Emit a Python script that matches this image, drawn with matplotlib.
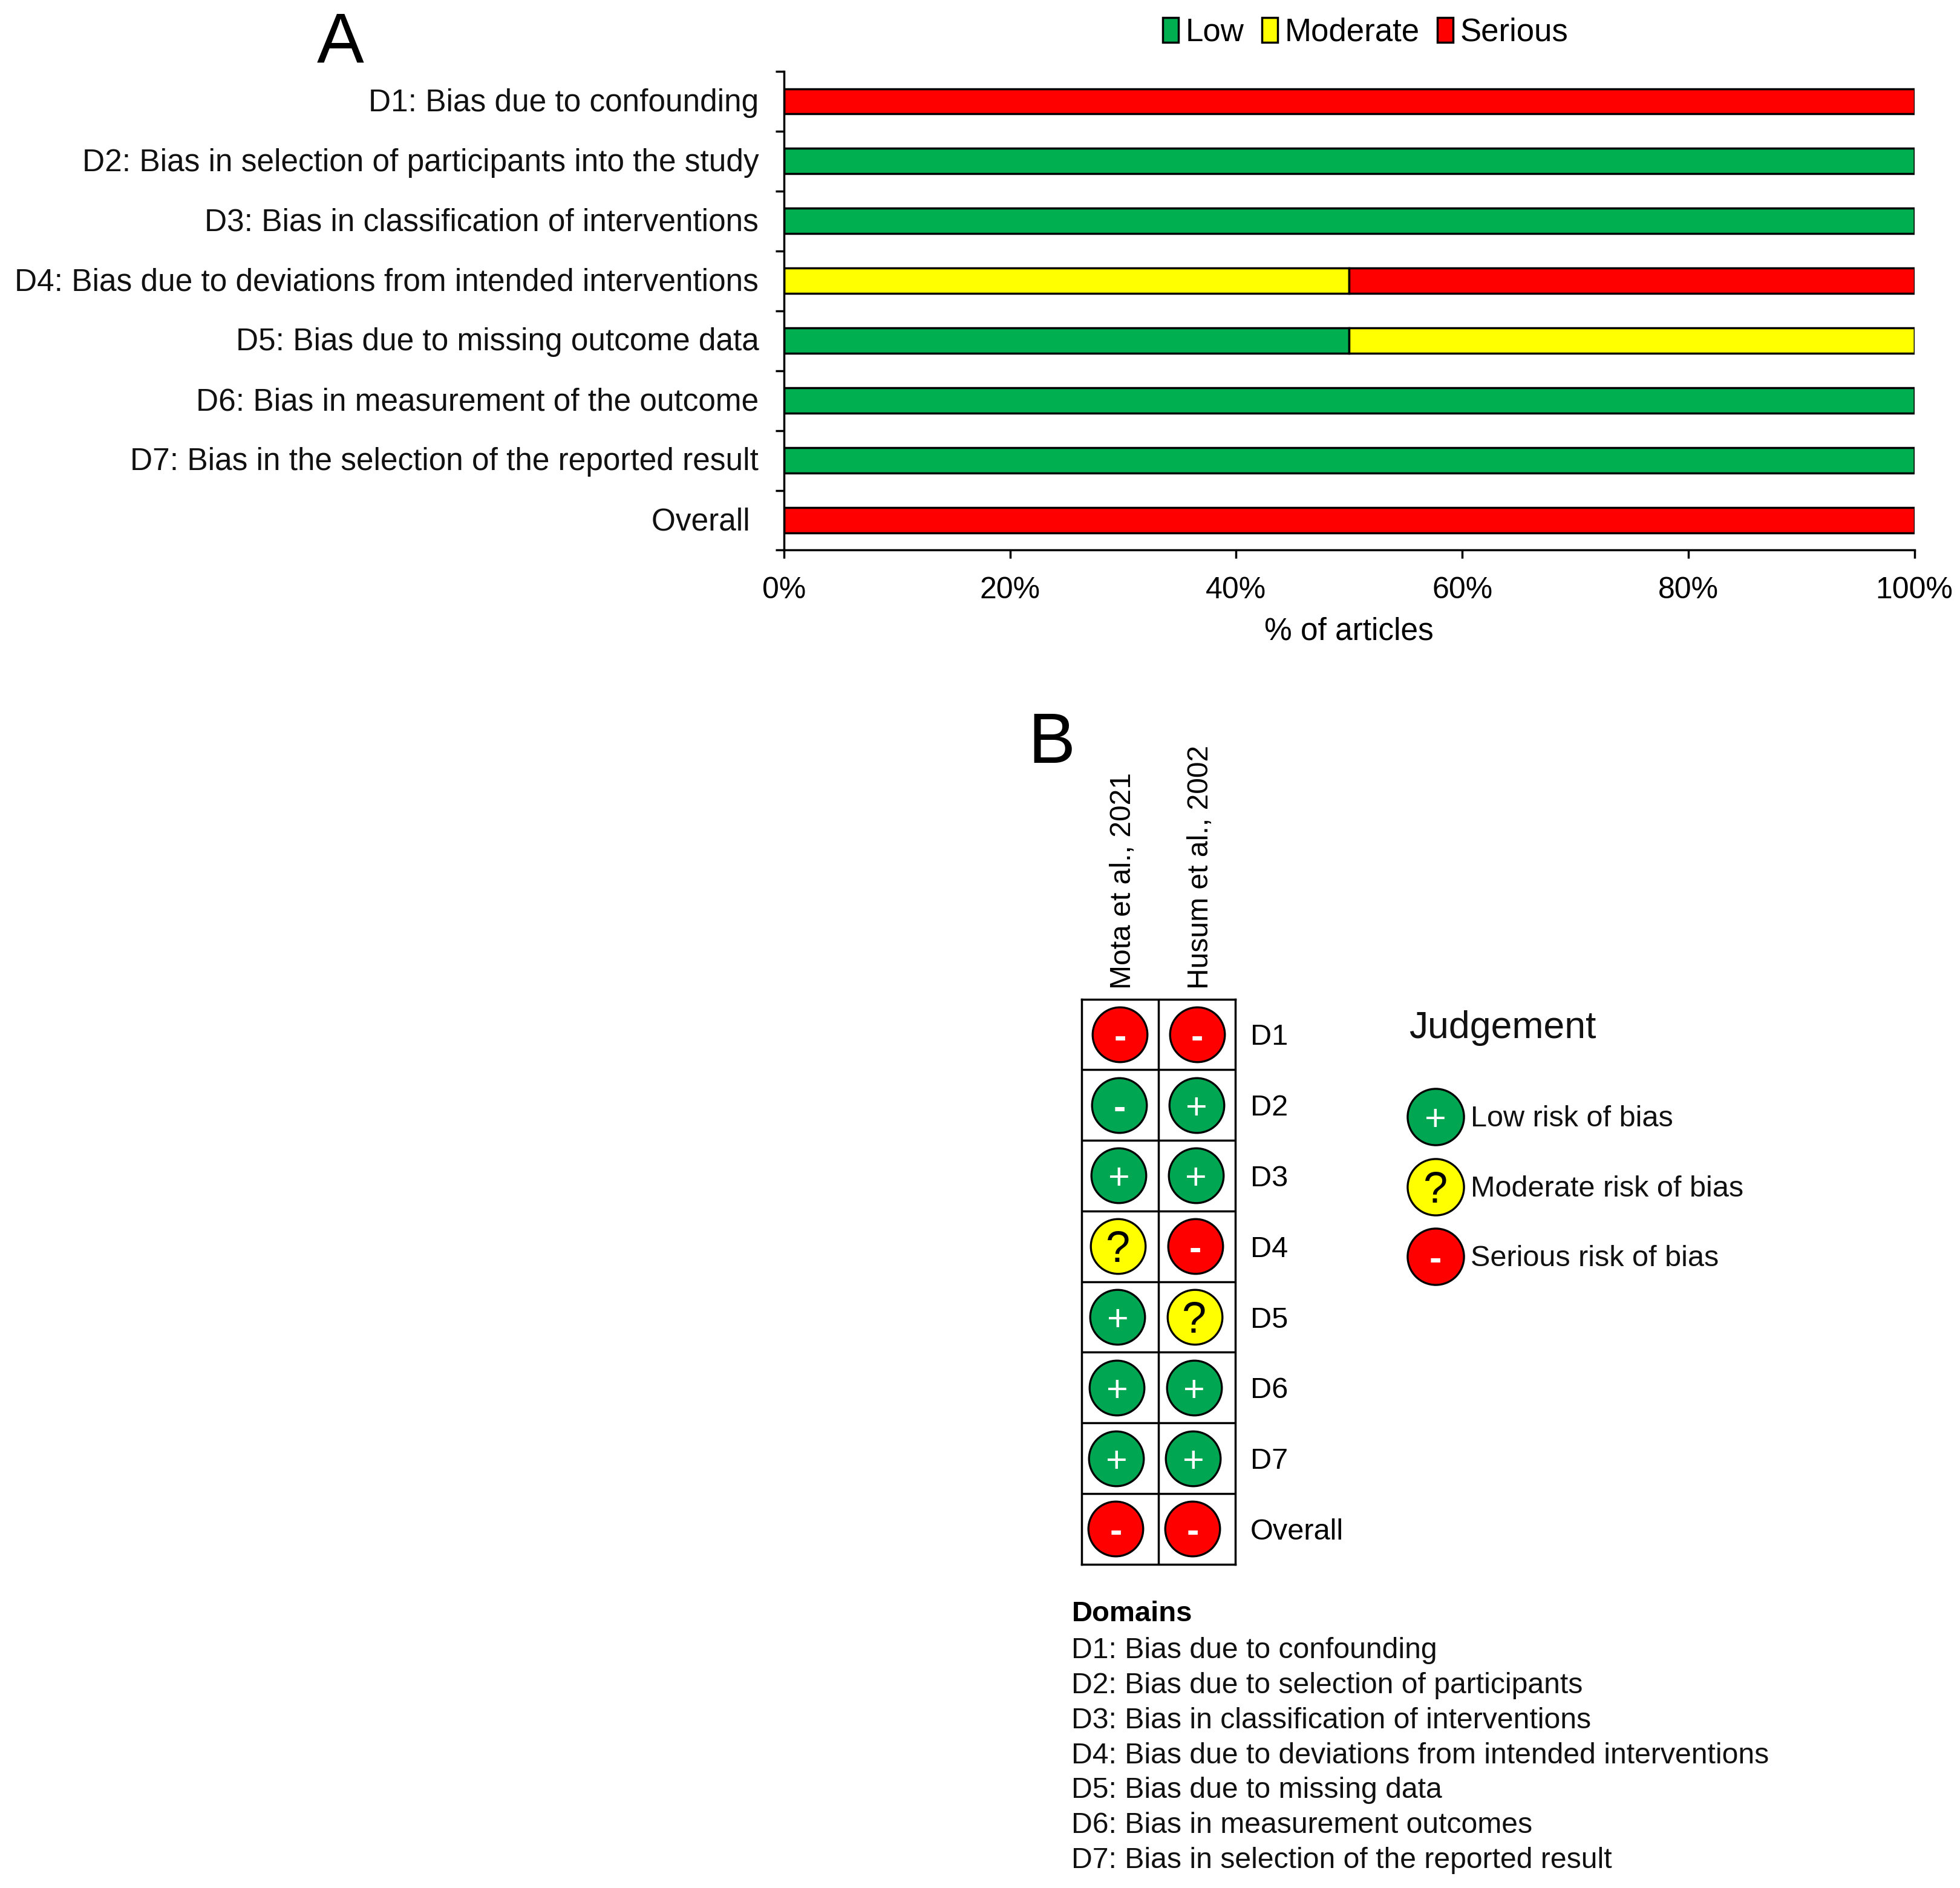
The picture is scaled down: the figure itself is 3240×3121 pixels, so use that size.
import matplotlib
matplotlib.use("Agg")
import matplotlib.pyplot as plt
from matplotlib.patches import Patch
from matplotlib.ticker import PercentFormatter
from matplotlib.transforms import ScaledTranslation

plt.rcParams['font.family'] = ['Liberation Sans', 'DejaVu Sans']

# panel A
domains_long = ['D1: Bias due to confounding',
                'D2: Bias in selection of participants into the study',
                'D3: Bias in classification of interventions',
                'D4: Bias due to deviations from intended interventions',
                'D5: Bias due to missing outcome data',
                'D6: Bias in measurement of the outcome',
                'D7: Bias in the selection of the reported result',
                'Overall ']
low_pct = [0, 100, 100, 0, 50, 100, 100, 0]
moderate_pct = [0, 0, 0, 50, 50, 0, 0, 0]
serious_pct = [100, 0, 0, 50, 0, 0, 0, 100]
pct_ticks = [0, 20, 40, 60, 80, 100]

# panel B
studies = ['Mota et al., 2021', 'Husum et al., 2002']
domain_short = ['D1', 'D2', 'D3', 'D4', 'D5', 'D6', 'D7', 'Overall']
mota_judgement = ['serious', 'low-minus', 'low', 'moderate', 'low', 'low', 'low', 'serious']
husum_judgement = ['serious', 'low', 'low', 'serious', 'moderate', 'low', 'low', 'serious']
key_levels = ['low', 'moderate', 'serious']
key_labels = ['Low risk of bias', 'Moderate risk of bias', 'Serious risk of bias']
domain_notes = ['D1: Bias due to confounding',
                'D2: Bias due to selection of participants',
                'D3: Bias in classification of interventions',
                'D4: Bias due to deviations from intended interventions',
                'D5: Bias due to missing data',
                'D6: Bias in measurement outcomes',
                'D7: Bias in selection of the reported result']

GREEN = '#00a651'
BAR_GREEN = '#00b050'
YELLOW = '#ffff00'
RED = '#ff0000'
W, H = 3241, 3121
S = W / 1568
DRIFT = 0.008  # the circles lean slightly left going down the grid


def box(x0, y0, x1, y1):
    """figure fractions from preview pixels (y down)"""
    return [x0 * S / W, 1 - y1 * S / H, (x1 - x0) * S / W, (y1 - y0) * S / H]


def ftext(x, y, s, **kw):
    fig.text(x * S / W, 1 - y * S / H, s, **kw)


# colour and symbol for a judgement
def style(level):
    return {'low': (GREEN, '+', 'white'),
            'low-minus': (GREEN, '-', 'white'),
            'moderate': (YELLOW, '?', 'black'),
            'serious': (RED, '-', 'white')}[level]


def draw_marks(ax, x, y, level, size=4250):
    face, sym, col = style(level)
    ax.scatter([x], [y], s=size, color=face, edgecolor='black', linewidth=2.4,
               zorder=3, clip_on=False)
    fs = 52 if sym == '?' else 44
    ax.text(x, y, sym, color=col, ha='center', va='center_baseline', fontsize=fs,
            zorder=4, fontweight='bold' if sym == '-' else 'normal')


fig = plt.figure(figsize=(W / 100, H / 100), dpi=100)

# A: stacked bars
ax = fig.add_axes(box(627, 57, 1531, 440))
ypos = list(range(len(domains_long)))
left = [0] * len(ypos)
for vals, color, name in [(low_pct, BAR_GREEN, 'Low'), (moderate_pct, YELLOW, 'Moderate'),
                          (serious_pct, RED, 'Serious')]:
    ax.barh(ypos, vals, left=left, height=0.42, color=color, edgecolor='black',
            linewidth=2.5, label=name)
    left = [a + b for a, b in zip(left, vals)]

ax.set_xlim(0, 100)
ax.set_ylim(7.5, -0.5)
ax.set_xticks(pct_ticks)
ax.xaxis.set_major_formatter(PercentFormatter(decimals=0))
ax.set_yticks([i - 0.5 for i in range(len(ypos) + 1)])
ax.set_yticklabels([])
ax.tick_params(axis='both', width=2.5, length=10, labelsize=36, color='black')
ax.tick_params(axis='x', pad=21)
ax.spines['top'].set_visible(False)
ax.spines['right'].set_visible(False)
ax.spines['left'].set_linewidth(2.5)
ax.spines['bottom'].set_linewidth(2.5)
ax.set_xlabel('% of articles', fontsize=37, labelpad=15)
for i, lab in enumerate(domains_long):
    ax.annotate(lab, (0, i), xytext=(-30, -2), textcoords='offset points',
                ha='right', va='center', fontsize=37, color='#111111')

handles = [Patch(facecolor=c, edgecolor='black', linewidth=2.5) for c in (BAR_GREEN, YELLOW, RED)]
fig.legend(handles, ['Low', 'Moderate', 'Serious'], ncols=3, frameon=False, fontsize=38,
           loc='center', bbox_to_anchor=(1092 * S / W, 1 - 26 * S / H),
           handlelength=0.5, handleheight=0.8, handletextpad=0.22, columnspacing=0.55)

ftext(272, 50, 'A', fontsize=84, ha='center', va='baseline')
ftext(841, 610, 'B', fontsize=84, ha='center', va='baseline')

# B: traffic light grid
axb = fig.add_axes(box(865, 799, 988, 1251))
axb.set_xlim(-0.5, 1.5)
axb.set_ylim(7.5, -0.5)
for col, marks in enumerate([mota_judgement, husum_judgement]):
    for row, level in enumerate(marks):
        draw_marks(axb, col - DRIFT * row, row, level)
axb.set_xticks([0.5], minor=True)
axb.set_yticks([i + 0.5 for i in range(7)], minor=True)
axb.grid(which='minor', color='black', linewidth=2.5)
axb.tick_params(which='minor', length=0)
axb.set_xticks(range(len(studies)))
axb.xaxis.tick_top()
axb.yaxis.tick_right()
axb.set_yticks(range(len(domain_short)))
axb.set_yticklabels(domain_short, fontsize=35)
axb.tick_params(which='major', length=0, pad=18)
axb.tick_params(axis='x', which='major', pad=12)
axb.set_xticklabels(studies, rotation=90, fontsize=34.6, ha='center', va='bottom')
nudge = ScaledTranslation(0.055, 0, fig.dpi_scale_trans)
for tick in axb.xaxis.get_major_ticks():
    tick.label2.set_transform(tick.label2.get_transform() + nudge)
for sp in axb.spines.values():
    sp.set_linewidth(2.5)

# judgement key
axk = fig.add_axes(box(1126, 865, 1400, 1033))
axk.axis('off')
axk.set_xlim(0, 274)
axk.set_ylim(2.5, -0.5)
for i, (level, lab) in enumerate(zip(key_levels, key_labels)):
    draw_marks(axk, 22, i, level, size=4500)
    axk.text(50, i + 0.03, lab, fontsize=35, va='center', ha='left', color='#111111')
ftext(1127, 822, 'Judgement', fontsize=45, ha='left', va='center', color='#111111')

# domains list
ftext(857, 1291, 'Domains', fontsize=34, fontweight='bold', ha='left', va='center')
for i, note in enumerate(domain_notes):
    ftext(857, 1320 + i * 28, note, fontsize=34.7, ha='left', va='center', color='#111111')

fig.savefig('out.png', dpi=100)
